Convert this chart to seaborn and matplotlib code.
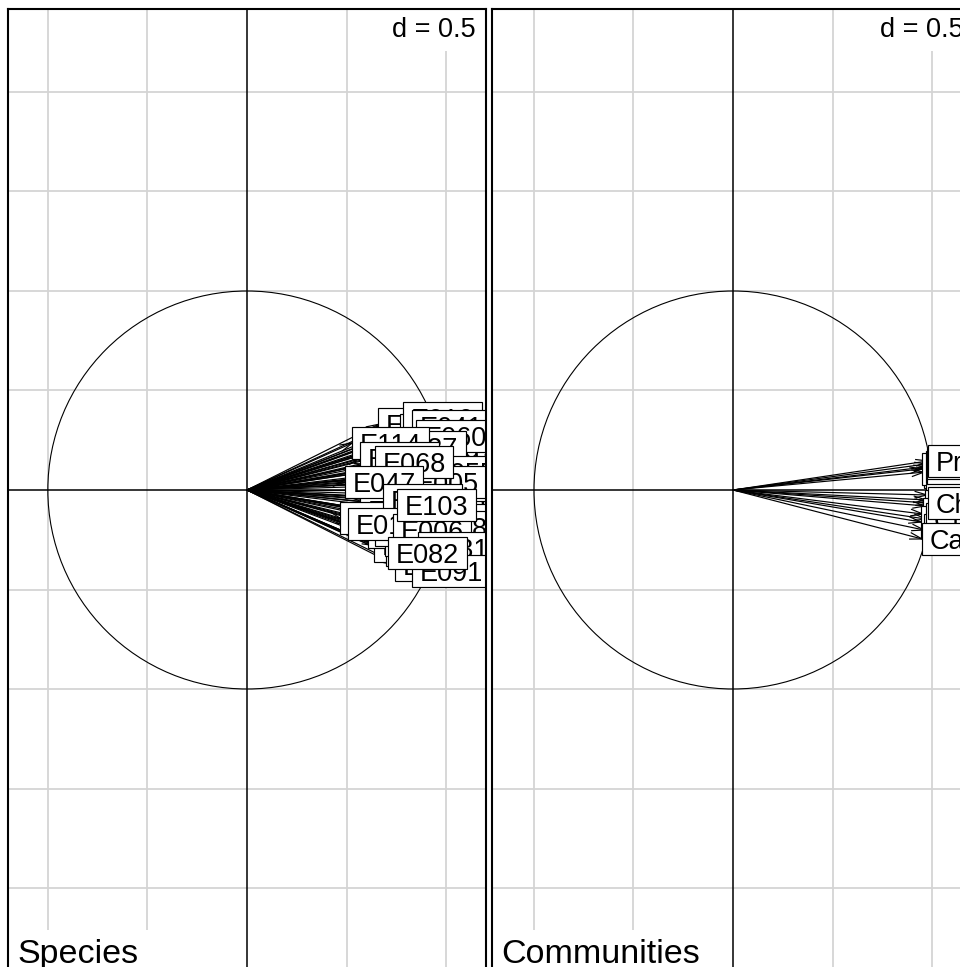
import numpy as np
import pandas as pd
import matplotlib
matplotlib.use("Agg")
import matplotlib.pyplot as plt
import seaborn as sns
from matplotlib.patches import Circle, Rectangle

sns.set_theme(style="white")
plt.rcParams["font.family"] = ["Liberation Sans", "DejaVu Sans"]

# Species correlations with the two first axes (drawing order: last on top)
species_names = [
    "E014", "E016", "E018", "E020", "E022", "E024", "E026", "E028", "E030", "E032",
    "E034", "E036", "E038", "E040", "E042", "E043", "E045", "E046", "E048", "E049",
    "E050", "E051", "E052", "E053", "E054", "E056", "E057", "E058", "E059", "E061",
    "E062", "E063", "E064", "E065", "E066", "E067", "E069", "E070", "E071", "E072",
    "E001", "E002", "E003", "E004", "E007", "E008", "E009", "E011", "E013", "E015",
    "E017", "E019", "E021", "E025", "E029", "E033", "E037", "E039", "E044",
    "E010", "E041", "E093", "E060", "E027", "E114", "E035", "E055", "E005", "E068",
    "E047", "E077", "E088", "E023", "E012", "E006", "E031", "E091", "E082", "E103",
]
species_x = [
    0.70, 0.66, 0.78, 0.62, 0.74, 0.81, 0.58, 0.72, 0.85, 0.64,
    0.77, 0.69, 0.83, 0.60, 0.75, 0.67, 0.88, 0.71, 0.80, 0.63,
    0.76, 0.86, 0.59, 0.73, 0.82, 0.65, 0.79, 0.70, 0.84, 0.61,
    0.74, 0.87, 0.68, 0.80, 0.57, 0.78, 0.72, 0.83, 0.66, 0.76,
    0.668, 0.744, 0.618, 0.769, 0.693, 0.794, 0.744, 0.819, 0.643, 0.844,
    0.568, 0.719, 0.869, 0.769, 0.693, 0.819, 0.593, 0.844, 0.744,
    0.784, 0.829, 0.889, 0.849, 0.704, 0.528, 0.568, 0.894, 0.809, 0.643,
    0.492, 0.467, 0.930, 0.683, 0.508, 0.734, 0.859, 0.829, 0.709, 0.754,
]
species_y = [
    0.05, -0.12, 0.12, 0.20, -0.18, -0.10, -0.06, 0.26, 0.14, -0.28,
    -0.33, 0.19, -0.22, 0.13, 0.08, -0.02, 0.05, -0.23, 0.21, 0.06,
    -0.04, -0.14, -0.15, 0.30, -0.31, 0.24, -0.17, -0.30, 0.30, -0.21,
    0.17, -0.05, 0.12, -0.36, 0.03, 0.26, -0.12, 0.10, 0.33, -0.26,
    0.101, 0.000, -0.050, -0.126, -0.251, -0.276, 0.161, 0.251, -0.201, -0.050,
    -0.101, 0.075, -0.151, 0.302, 0.176, -0.352, 0.101, 0.025, -0.377,
    0.362, 0.322, 0.176, 0.271, 0.216, 0.236, 0.161, 0.090, 0.040, 0.141,
    0.040, -0.141, -0.186, -0.050, -0.171, -0.201, -0.291, -0.407, -0.317, -0.075,
]

# Community correlations with the two first axes
community_names = [
    "Pinèdes", "Peupleraies", "Prés salés", "Pré-bois", "Prairies",
    "Hêtraies", "Landes", "Aulnaies", "Charmaies", "Frênaies", "Chaumes",
    "Châtaigneraies", "Chênaies", "Callunaies",
]
community_x = [
    0.960, 0.950, 0.970, 0.975, 0.980,
    0.975, 0.970, 0.965, 0.955, 0.945, 0.960,
    0.970, 0.980, 0.950,
]
community_y = [
    0.090, 0.106, 0.116, 0.131, 0.146,
    -0.025, -0.050, -0.080, -0.121, -0.161, -0.201,
    -0.146, -0.065, -0.246,
]

grid_step = 0.5
LABEL_PT = 19.5
TITLE_PT = 24.5
DPI = 100
W, H = 960, 967

fig = plt.figure(figsize=(W / DPI, H / DPI), dpi=DPI)
renderer = fig.canvas.get_renderer()


def px(pt):
    return pt * DPI / 72.0


def corcircle(rect, xlim, ylim, names, xs, ys, title):
    ax = fig.add_axes(rect)
    ax.set_xlim(-xlim, xlim)
    ax.set_ylim(-ylim, ylim)
    ax.set_xticks([])
    ax.set_yticks([])
    ax.set_facecolor("white")
    for sp in ax.spines.values():
        sp.set_color("black")
        sp.set_linewidth(1.5)
        sp.set_zorder(50)

    p0 = ax.transData.transform((0, 0))
    p1 = ax.transData.transform((1, 1))
    S = p1[0] - p0[0]  # pixels per data unit

    # grid
    g = np.arange(grid_step, 3, grid_step)
    for v in g:
        if v < xlim:
            ax.axvline(v, color="#d4d4d4", lw=1.3, zorder=1)
            ax.axvline(-v, color="#d4d4d4", lw=1.3, zorder=1)
        if v < ylim:
            ax.axhline(v, color="#d4d4d4", lw=1.3, zorder=1)
            ax.axhline(-v, color="#d4d4d4", lw=1.3, zorder=1)

    # grid scale legend, top right
    fs = px(LABEL_PT)
    ax.add_patch(Rectangle((xlim - 103 / S, ylim - 42 / S), 103 / S, 42 / S,
                           facecolor="white", edgecolor="none", zorder=2))
    ax.text(xlim - 10 / S, ylim - 18.5 / S - 0.716 * fs / 2 / S, f"d = {grid_step}",
            fontsize=LABEL_PT, ha="right", va="baseline", color="black", zorder=3)

    # title, bottom left
    ft = px(TITLE_PT)
    tt = ax.text(0, 0, title, fontsize=TITLE_PT)
    tw = tt.get_window_extent(renderer).width
    tt.remove()
    sp_t = 0.2778 * ft
    th = 0.716 * ft * 5 / 3
    ax.add_patch(Rectangle((-xlim, -ylim), (tw + 2 * sp_t) / S, th / S,
                           facecolor="white", edgecolor="none", zorder=2))
    ax.text(-xlim + sp_t / S, -ylim + th / 2 / S - 0.716 * ft / 2 / S, title,
            fontsize=TITLE_PT, ha="left", va="baseline", color="black", zorder=3)

    # axes through origin and unit circle
    ax.axvline(0, color="black", lw=1.1, zorder=4)
    ax.axhline(0, color="black", lw=1.1, zorder=4)
    ax.add_patch(Circle((0, 0), 1, fill=False, edgecolor="black", lw=0.8, zorder=4))

    # arrow shafts
    df = pd.DataFrame({
        "name": np.repeat(names, 2),
        "x": np.ravel([[0.0, x] for x in xs]),
        "y": np.ravel([[0.0, y] for y in ys]),
    })
    sns.lineplot(data=df, x="x", y="y", units="name", estimator=None, sort=False,
                 color="black", lw=0.85, legend=False, ax=ax, zorder=5)
    ax.set_xlabel("")
    ax.set_ylabel("")

    # open arrow heads
    L = 13 / S
    for x, y in zip(xs, ys):
        ang = np.arctan2(y, x)
        for a in (ang + np.pi - np.radians(15), ang + np.pi + np.radians(15)):
            ax.plot([x, x + L * np.cos(a)], [y, y + L * np.sin(a)],
                    color="black", lw=0.85, zorder=5, solid_capstyle="butt")

    # labels in white boxes, left edge at the arrow tip
    sp_l = 0.2778 * fs
    yh = 5 / 6 * 0.716 * fs / S
    for i, (nm, x, y) in enumerate(zip(names, xs, ys)):
        z = 10 + i * 0.01
        t = ax.text(x, y, nm, fontsize=LABEL_PT, ha="center", va="baseline",
                    color="black", zorder=z + 0.005, clip_on=True)
        w = t.get_window_extent(renderer).width
        xh = (w + 2 * sp_l) / S
        t.set_position((x + xh / 2, y - 0.716 * fs / 2 / S))
        ax.add_patch(Rectangle((x, y - yh), xh, 2 * yh, facecolor="white",
                               edgecolor="black", lw=0.85, zorder=z))
    ax.set_xlim(-xlim, xlim)
    ax.set_ylim(-ylim, ylim)
    return ax


corcircle([8 / W, -4 / H, 478 / W, 962 / H], 1.2, 2.417,
          species_names, species_x, species_y, "Species")
corcircle([492 / W, -4 / H, 482 / W, 962 / H], 1.211, 2.417,
          community_names, community_x, community_y, "Communities")

fig.savefig("out.png", dpi=DPI)
